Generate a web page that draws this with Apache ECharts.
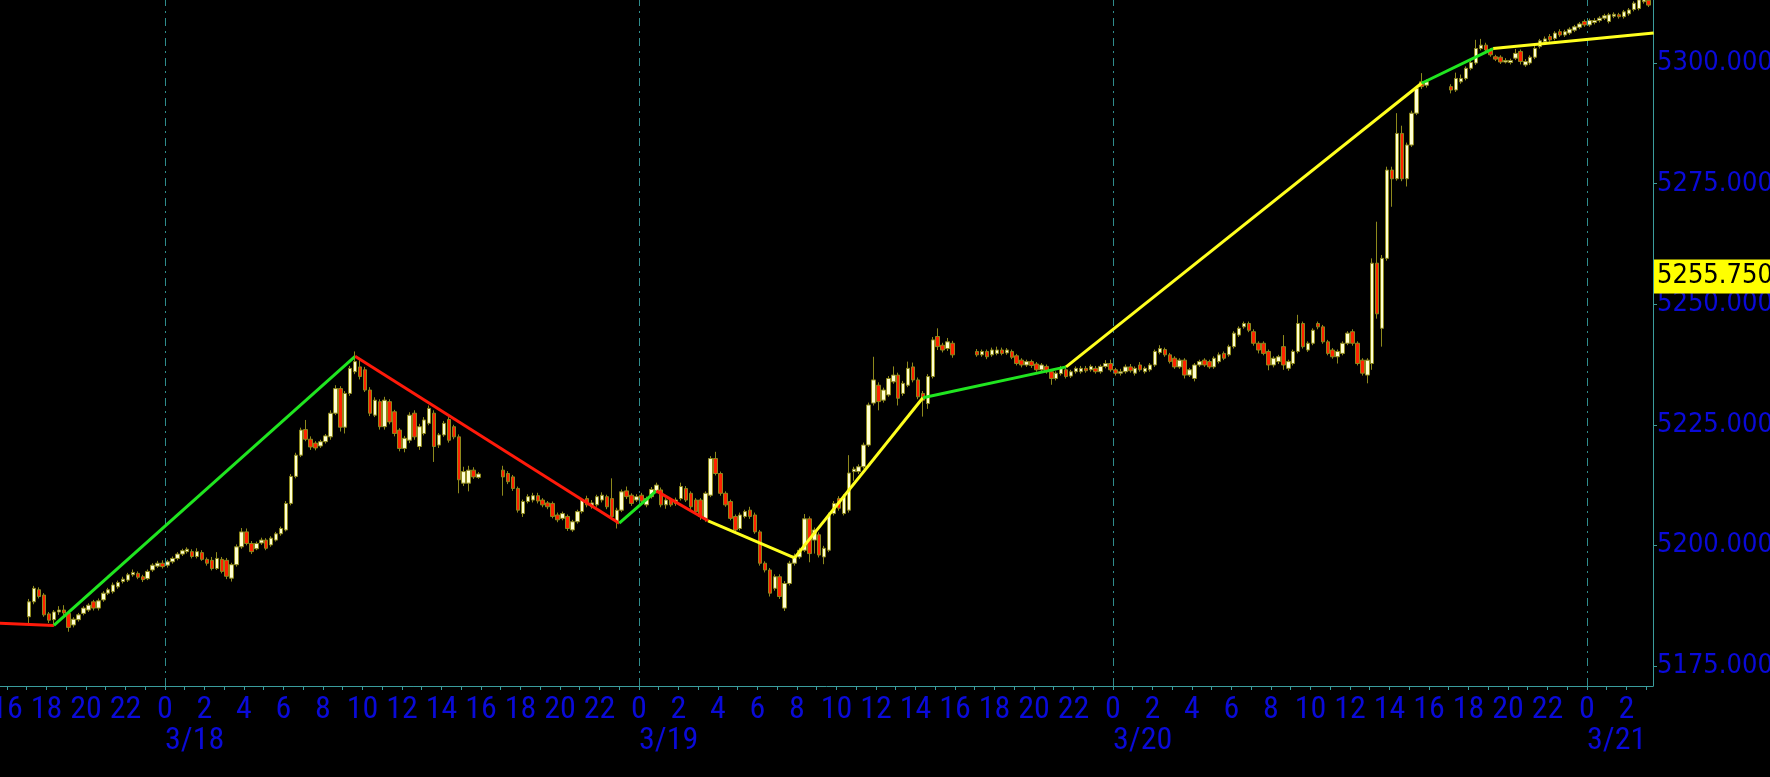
<!DOCTYPE html>
<html><head><meta charset="utf-8">
<script src="https://cdn.jsdelivr.net/npm/echarts@6/dist/echarts.min.js"></script>
<style>html,body{margin:0;padding:0;background:#000;overflow:hidden}#c{width:1770px;height:777px}</style>
</head><body><div id="c"></div>
<script>
// ---- Data (hours counted from 3/18 00:00, 15-minute bars: [open, close, low, high]) ----
const sessAStart = -7;   // 3/17 17:00
const sessA = [
 [5185.2,5188.3,5183.9,5188.9],[5188.3,5191.1,5187.8,5191.6],[5190.8,5189.4,5189.0,5191.3],[5189.7,5185.6,5185.2,5190.1],
 [5185.8,5184.5,5183.9,5186.2],[5184.6,5186.2,5183.6,5186.6],[5186.2,5186.6,5185.6,5187.4],[5186.6,5186.0,5185.5,5187.6],
 [5185.9,5183.0,5182.1,5186.4],[5183.5,5184.7,5183.0,5185.1],[5184.6,5185.6,5184.2,5186.0],[5185.9,5187.0,5185.5,5187.4],
 [5186.6,5187.6,5186.2,5188.0],[5188.3,5187.0,5186.5,5188.7],[5187.0,5188.5,5186.5,5189.0],[5188.7,5190.1,5188.3,5190.5],
 [5190.1,5190.8,5189.7,5191.2],[5190.4,5191.8,5190.0,5192.3],[5191.4,5192.3,5191.0,5192.7],[5192.5,5193.0,5192.1,5193.5],
 [5192.8,5193.9,5192.4,5194.3],[5193.9,5194.4,5193.5,5195.0],[5194.2,5193.4,5193.0,5194.6],[5193.5,5192.9,5192.4,5193.9],
 [5193.1,5194.6,5192.8,5195.0],[5194.9,5195.9,5194.5,5196.3],[5195.7,5196.3,5195.3,5196.8],[5196.3,5195.6,5195.2,5196.9],
 [5195.9,5196.6,5195.4,5197.0],[5196.6,5197.3,5196.2,5197.7],[5197.3,5198.2,5196.9,5198.6],[5198.2,5198.9,5197.8,5199.3],
 [5198.7,5199.2,5198.3,5199.6],[5198.7,5197.7,5197.3,5199.2],[5197.7,5198.7,5197.3,5199.4],[5198.5,5197.1,5196.8,5199.0],
 [5197.1,5196.3,5195.8,5197.5],[5196.9,5195.2,5194.8,5197.6],[5195.2,5197.3,5194.9,5198.6],[5197.1,5194.6,5194.2,5197.6],
 [5196.9,5193.6,5193.0,5197.4],[5193.2,5196.0,5192.5,5196.4],[5196.0,5199.7,5195.6,5200.2],[5199.7,5202.8,5199.3,5203.6],
 [5202.8,5200.4,5200.0,5203.5],[5200.4,5198.7,5198.2,5200.9],[5199.3,5200.4,5199.0,5200.8],[5200.5,5201.1,5200.1,5201.6],
 [5201.1,5199.4,5199.0,5201.5],[5200.1,5201.5,5199.7,5201.9],[5201.1,5202.4,5200.8,5202.8],[5202.4,5203.5,5202.0,5203.9],
 [5203.2,5208.7,5202.9,5209.2],[5208.7,5214.3,5208.3,5214.8],[5214.3,5218.7,5213.9,5219.2],[5218.7,5223.9,5218.3,5224.4],
 [5224.0,5222.0,5221.6,5226.0],[5222.0,5220.4,5219.8,5222.6],[5221.2,5220.2,5219.7,5221.6],[5220.6,5221.5,5220.2,5221.9],
 [5221.5,5222.7,5221.1,5223.1],[5222.5,5227.4,5221.9,5228.0],[5227.4,5232.5,5227.0,5233.2],[5232.5,5224.5,5223.6,5233.0],
 [5224.5,5231.5,5223.2,5232.0],[5231.5,5236.7,5231.0,5237.2],[5236.0,5238.1,5235.5,5240.2],[5237.0,5235.0,5234.4,5238.6],
 [5236.4,5232.2,5231.8,5237.0],[5232.2,5227.4,5226.8,5232.8],[5227.0,5230.1,5226.6,5230.7],[5229.8,5224.6,5224.0,5230.3],
 [5224.6,5230.1,5224.0,5230.8],[5229.8,5225.6,5225.1,5230.3],[5227.7,5223.2,5222.6,5228.1],[5223.9,5220.1,5219.5,5224.3],
 [5220.1,5222.2,5219.3,5222.7],[5221.8,5227.0,5221.2,5227.6],[5227.4,5222.5,5221.9,5228.0],[5220.5,5224.6,5219.8,5225.2],
 [5223.2,5226.0,5222.8,5226.6],[5225.3,5228.4,5224.9,5229.0],[5227.4,5220.5,5217.3,5228.0],[5220.8,5222.9,5220.2,5223.3],
 [5222.9,5225.3,5222.5,5225.8],[5226.1,5221.8,5221.3,5226.6],[5224.6,5222.5,5222.0,5225.0],[5222.5,5213.6,5210.8,5223.0],
 [5212.9,5215.3,5212.3,5216.3],[5212.9,5215.6,5211.2,5216.5],[5215.6,5214.2,5213.8,5216.2],[5214.1,5214.8,5213.8,5215.2]
];
const sessBStart = 17;   // 3/18 17:00
const sessB = [
 [5215.6,5214.2,5210.3,5216.5],[5214.9,5213.2,5212.7,5215.4],[5214.2,5211.8,5211.3,5214.6],[5211.8,5207.3,5206.8,5212.2],
 [5206.6,5209.1,5205.9,5209.5],[5209.1,5210.1,5208.7,5210.6],[5209.4,5210.3,5208.9,5210.9],[5210.3,5209.2,5208.7,5210.9],
 [5209.4,5208.4,5207.9,5209.8],[5208.8,5208.0,5207.5,5209.2],[5208.7,5206.0,5205.6,5209.1],[5206.3,5205.3,5204.8,5206.8],
 [5205.6,5206.6,5205.2,5207.0],[5206.0,5203.5,5203.0,5206.4],[5203.2,5204.9,5202.8,5205.3],[5204.9,5207.0,5204.5,5207.4],
 [5207.0,5209.4,5206.6,5209.8],[5209.7,5208.4,5207.9,5210.3],[5208.0,5208.8,5207.6,5209.4],[5208.4,5210.1,5208.0,5210.5],
 [5209.4,5210.4,5208.9,5211.0],[5210.1,5208.0,5207.5,5210.5],[5209.7,5206.0,5205.5,5213.9],[5204.9,5207.3,5203.5,5207.8],
 [5207.3,5211.1,5206.9,5211.6],[5211.3,5210.1,5209.6,5212.2],[5210.4,5208.7,5208.2,5210.8],[5209.4,5210.1,5209.0,5210.6],
 [5210.4,5209.2,5208.8,5210.9],[5208.4,5209.7,5207.9,5210.1],[5210.1,5211.6,5209.7,5212.1],[5211.2,5212.5,5210.8,5213.0],
 [5211.5,5208.4,5207.9,5212.0],[5208.4,5209.4,5207.6,5209.8],[5209.4,5208.4,5208.0,5209.8],[5208.7,5209.4,5208.2,5209.9],
 [5209.7,5212.2,5209.3,5213.0],[5211.8,5209.4,5209.0,5212.3],[5210.8,5208.0,5207.5,5211.2],[5209.4,5207.0,5206.6,5209.8],
 [5209.4,5206.0,5205.3,5209.8],[5205.6,5210.8,5204.9,5211.2],[5210.4,5218.0,5210.0,5218.5],[5218.0,5214.9,5214.5,5219.4],
 [5214.9,5210.8,5210.3,5215.3],[5210.8,5208.4,5208.0,5211.2],[5209.1,5205.6,5205.2,5209.5],[5206.0,5203.2,5202.8,5206.4],
 [5203.5,5206.3,5203.1,5206.8],[5206.0,5207.0,5205.6,5207.4],[5207.3,5206.0,5205.5,5208.0],[5206.3,5202.8,5202.4,5206.8],
 [5202.8,5196.3,5195.8,5203.2],[5196.3,5194.9,5194.4,5196.7],[5194.9,5190.1,5189.4,5195.3],[5191.1,5193.5,5190.6,5194.0],
 [5193.5,5189.4,5188.9,5194.0],[5187.0,5192.1,5186.4,5192.6],[5192.1,5196.3,5191.7,5196.8],[5196.3,5197.8,5195.8,5198.3],
 [5197.6,5199.0,5197.2,5199.5],[5199.0,5205.5,5198.6,5206.5],[5205.5,5198.3,5196.5,5206.0],[5201.1,5203.2,5198.3,5203.7],
 [5202.2,5198.0,5197.5,5202.7],[5197.6,5199.4,5196.1,5199.9],[5199.0,5206.3,5198.6,5206.8],[5206.6,5208.7,5206.2,5209.2],
 [5209.7,5207.7,5207.2,5210.2],[5206.6,5210.1,5206.2,5210.6],[5207.3,5215.0,5206.8,5218.7],[5215.3,5215.8,5213.4,5216.3],
 [5215.3,5216.3,5214.8,5216.8],[5216.3,5220.8,5215.9,5221.3],[5220.8,5229.1,5220.4,5229.6],[5229.5,5234.3,5229.0,5239.1],
 [5233.2,5229.8,5228.0,5233.8],[5230.1,5232.2,5229.6,5232.7],[5231.2,5234.6,5230.8,5235.1],[5233.9,5235.3,5233.5,5237.1],
 [5235.3,5230.5,5229.0,5235.8],[5231.5,5233.6,5231.0,5234.1],[5233.2,5236.7,5232.8,5238.1],[5237.0,5234.3,5233.8,5237.9],
 [5234.3,5230.8,5230.3,5234.8],[5231.5,5230.1,5226.7,5232.0],[5229.4,5235.0,5228.3,5235.5],[5235.0,5242.6,5234.6,5243.2],
 [5243.3,5241.2,5240.5,5245.0],[5241.5,5240.5,5240.0,5242.0],[5240.8,5242.2,5240.3,5243.0],[5241.9,5239.5,5238.9,5242.4]
];
const sessCStart = 41;   // 3/19 17:00
const sessC = [
 [5240.2,5239.5,5239.1,5240.7],[5239.5,5240.2,5239.1,5240.6],[5240.2,5239.1,5238.6,5240.6],[5239.5,5240.5,5239.1,5241.0],
 [5239.8,5240.5,5239.4,5241.2],[5240.5,5239.8,5239.4,5241.0],[5239.9,5240.5,5239.5,5240.9],[5240.2,5239.0,5238.6,5240.6],
 [5239.3,5237.7,5237.3,5239.7],[5238.4,5237.4,5236.9,5238.8],[5237.4,5238.1,5237.0,5238.5],[5238.1,5237.3,5236.8,5238.5],
 [5237.6,5236.4,5236.0,5238.0],[5236.4,5237.4,5236.0,5237.8],[5237.1,5236.0,5235.6,5237.5],[5236.0,5234.6,5233.3,5236.4],
 [5234.6,5235.7,5234.2,5236.1],[5235.6,5236.7,5235.2,5237.2],[5236.4,5235.0,5234.6,5236.8],[5235.1,5236.0,5234.7,5236.4],
 [5236.0,5236.7,5235.6,5237.1],[5236.0,5236.7,5235.6,5237.2],[5236.7,5236.2,5235.8,5237.2],[5236.4,5237.1,5236.0,5237.5],
 [5236.7,5236.0,5235.6,5237.2],[5236.0,5237.1,5235.6,5237.5],[5237.1,5237.7,5236.7,5238.4],[5237.7,5236.4,5236.0,5238.5],
 [5236.4,5235.7,5235.2,5236.8],[5235.7,5236.0,5235.2,5236.6],[5236.0,5237.0,5235.6,5237.5],[5237.0,5236.2,5235.8,5237.6],
 [5235.7,5236.7,5235.2,5237.1],[5237.4,5236.4,5236.0,5238.0],[5236.0,5236.7,5235.6,5237.1],[5236.4,5237.4,5236.0,5237.8],
 [5237.4,5240.2,5237.0,5240.6],[5240.0,5240.8,5239.6,5241.5],[5240.6,5239.5,5239.1,5241.0],[5239.5,5238.1,5237.7,5239.9],
 [5238.8,5237.0,5236.6,5239.2],[5237.0,5238.4,5236.6,5238.8],[5238.4,5235.3,5234.6,5238.8],[5235.3,5236.4,5234.9,5236.8],
 [5234.6,5237.4,5234.0,5237.8],[5237.4,5238.1,5237.0,5238.5],[5238.4,5237.4,5237.0,5238.8],[5238.1,5237.0,5236.6,5238.5],
 [5237.0,5238.8,5236.6,5239.2],[5238.1,5239.5,5237.7,5240.0],[5239.8,5238.8,5238.4,5240.2],[5239.5,5241.2,5239.1,5241.6],
 [5241.2,5244.0,5240.8,5244.4],[5243.6,5245.0,5243.2,5245.4],[5245.3,5246.0,5244.9,5246.4],[5246.0,5244.6,5244.2,5246.4],
 [5244.3,5241.9,5241.4,5244.8],[5241.9,5240.5,5239.8,5242.3],[5241.9,5239.8,5239.4,5242.3],[5240.2,5237.4,5236.3,5240.6],
 [5237.4,5238.8,5236.9,5239.2],[5238.1,5239.1,5237.6,5239.5],[5241.2,5237.4,5236.4,5243.6],[5236.7,5238.1,5236.2,5238.5],
 [5237.7,5240.2,5237.3,5240.6],[5240.2,5246.0,5239.8,5247.8],[5246.0,5241.2,5240.8,5246.4],[5240.5,5241.9,5240.1,5242.3],
 [5241.9,5244.6,5241.5,5245.0],[5246.0,5245.3,5244.8,5246.4],[5245.3,5242.2,5241.8,5245.7],[5242.2,5239.8,5239.4,5242.6],
 [5240.5,5239.1,5238.7,5240.9],[5239.1,5240.2,5237.7,5240.6],[5239.8,5241.9,5239.4,5242.3],[5241.9,5244.0,5241.5,5244.4],
 [5244.3,5241.9,5241.4,5244.8],[5241.9,5237.7,5237.3,5242.3],[5238.4,5235.7,5235.2,5238.8],[5235.3,5238.4,5233.6,5238.8],
 [5237.7,5258.5,5236.4,5259.5],[5258.5,5248.0,5247.0,5267.1],[5245.0,5259.5,5241.2,5260.2],[5259.5,5277.8,5259.0,5278.5],
 [5277.8,5276.0,5270.2,5278.5],[5276.0,5285.4,5275.6,5289.6],[5285.4,5276.0,5275.5,5287.0],[5276.0,5283.0,5274.4,5283.5],
 [5283.0,5289.6,5282.6,5290.1],[5289.6,5294.7,5289.2,5295.2],[5296.1,5295.1,5294.6,5297.9],[5295.4,5296.1,5294.9,5296.6]
];
const sessDStart = 65;   // 3/20 17:00
const sessD = [
 [5295.1,5294.4,5293.7,5295.6],[5294.4,5296.8,5294.0,5298.0],[5296.1,5296.8,5295.7,5297.6],[5296.8,5298.9,5296.4,5299.3],
 [5298.9,5300.1,5298.5,5300.5],[5300.0,5303.0,5299.6,5304.8],[5303.0,5303.7,5302.6,5305.0],[5303.7,5302.7,5302.3,5304.2],
 [5302.7,5301.7,5301.3,5303.1],[5301.3,5300.8,5300.4,5301.7],[5301.2,5300.2,5299.8,5301.6],[5300.2,5300.5,5299.9,5301.0],
 [5300.1,5300.5,5299.7,5300.9],[5301.0,5302.0,5300.6,5302.9],[5302.4,5300.3,5299.7,5302.8],[5299.6,5300.3,5299.2,5300.8],
 [5300.0,5301.2,5299.6,5301.6],[5301.2,5303.0,5300.8,5303.5],[5303.4,5304.6,5303.0,5305.0],[5304.4,5305.0,5304.0,5305.5],
 [5305.5,5304.8,5304.4,5306.0],[5305.1,5306.2,5304.7,5306.6],[5306.5,5305.8,5305.4,5307.0],[5305.8,5306.5,5305.4,5306.9],
 [5306.2,5307.0,5305.8,5307.4],[5306.8,5307.5,5306.4,5307.9],[5307.4,5308.1,5307.0,5308.5],[5308.6,5307.9,5307.5,5309.0],
 [5307.9,5308.8,5307.5,5309.2],[5308.4,5308.8,5308.0,5309.3],[5308.8,5309.3,5308.4,5309.7],[5309.3,5309.8,5308.9,5310.2],
 [5308.6,5310.0,5308.2,5310.4],[5309.7,5310.1,5309.3,5310.5],[5310.0,5309.6,5309.2,5310.4],[5309.6,5310.6,5309.2,5311.0],
 [5310.2,5311.0,5309.8,5311.4],[5311.1,5312.4,5310.7,5312.8],[5311.3,5313.1,5310.9,5313.5],[5312.7,5313.1,5312.3,5313.6],
 [5313.0,5312.0,5311.6,5313.4]
];

// zigzag overlay (hours, price, segment colour)
const zigTimes  = [-8.5, -5.625, 9.625, 23.0, 24.875, 27.5, 31.875, 38.375, 45.625, 63.625, 67.25, 75.375];
const zigPrices = [5183.9, 5183.4, 5239.2, 5204.6, 5211.3, 5205.1, 5197.4, 5230.6, 5237.0, 5295.8, 5303.0, 5306.2];
const zigColors = ['red','green','red','green','red','yellow','yellow','green','yellow','green','yellow'];

const yTicks = [5175, 5200, 5225, 5250, 5275, 5300];
const dayStarts = [0, 24, 48, 72];
const dateLabels = ['3/18', '3/19', '3/20', '3/21'];
const lastPrice = 5255.75;

// ---- font availability ----
function pickFont(list) {
  const ctx = document.createElement('canvas').getContext('2d');
  const s = '0123456789./';
  for (const f of list) {
    for (const base of ['monospace', 'serif']) {
      ctx.font = '40px ' + base; const w0 = ctx.measureText(s).width;
      ctx.font = '40px "' + f + '", ' + base; const w1 = ctx.measureText(s).width;
      if (Math.abs(w0 - w1) > 0.5) return f;
    }
  }
  return null;
}
const trueNarrow = pickFont(['Liberation Sans Narrow', 'Arial Narrow', 'Roboto Condensed', 'Noto Sans Condensed', 'Open Sans Condensed', 'Ubuntu Condensed']);
const condensed = pickFont(['DejaVu Sans Condensed']);
const xFont = trueNarrow || condensed || 'Liberation Sans';
const xSize = trueNarrow ? 32 : (condensed ? 28 : 26);
const yFont = condensed || 'Liberation Sans';
const ySize = 27;

// ---- build ----
const BAR = 0.25;
const candleData = [];
[[sessAStart, sessA], [sessBStart, sessB], [sessCStart, sessC], [sessDStart, sessD]].forEach(([st, bars]) => {
  bars.forEach((b, i) => candleData.push([st + i * BAR + BAR / 2, b[0], b[1], b[2], b[3]]));
});
const colMap = { red: '#ff1a0a', green: '#20e620', yellow: '#ffff1e' };
const zigSeries = zigColors.map((c, i) => ({
  type: 'line', xAxisIndex: 0, yAxisIndex: 0, symbol: 'none', silent: true, z: 5,
  data: [[zigTimes[i], zigPrices[i]], [zigTimes[i + 1], zigPrices[i + 1]]],
  lineStyle: { color: colMap[c], width: 3 }
}));

const hourTicks = [], hourLabels = [];
for (let h = -8; h <= 75; h++) { hourTicks.push(h); if (h % 2 === 0) hourLabels.push(h); }

const X_MIN = -8.354, X_MAX = 75.342, Y_MIN = 5170.85, Y_MAX = 5313.06;
const AX = '#3a9c9c', BLUE = '#0a0ad8';
const hourMargin = 23.5 - xSize / 2;        // hour-label centre ~24px below the axis
const dateMargin = 54.5 - xSize / 2 - 31;   // date-label centre ~55px below the axis

const chart = echarts.init(document.getElementById('c'), null, { renderer: 'canvas' });
chart.setOption({
  backgroundColor: '#000',
  animation: false,
  grid: { left: 0, right: 117, top: 0, bottom: 91, containLabel: false, outerBoundsMode: 'none' },
  xAxis: [{
    type: 'value', min: X_MIN, max: X_MAX, position: 'bottom',
    axisLine: { show: true, onZero: false, lineStyle: { color: AX, width: 1 } },
    axisTick: { show: true, length: 4, lineStyle: { color: AX }, customValues: hourTicks },
    axisLabel: { show: true, customValues: hourLabels, color: BLUE, fontFamily: xFont, fontSize: xSize, margin: hourMargin, hideOverlap: false,
      formatter: v => String(((Math.round(v) % 24) + 24) % 24) },
    splitLine: { show: false }
  }, {
    type: 'value', min: X_MIN, max: X_MAX, position: 'bottom', offset: 31,
    axisLine: { show: false, onZero: false }, axisTick: { show: false }, splitLine: { show: false },
    axisLabel: { show: true, customValues: dayStarts, color: BLUE, fontFamily: xFont, fontSize: xSize, margin: dateMargin, align: 'left',
      formatter: v => dateLabels[dayStarts.indexOf(Math.round(v))] || '' }
  }],
  yAxis: [{
    type: 'value', min: Y_MIN, max: Y_MAX, position: 'right',
    axisLine: { show: true, onZero: false, lineStyle: { color: AX, width: 1 } },
    axisTick: { show: true, length: 4, lineStyle: { color: AX }, customValues: yTicks },
    axisLabel: { show: true, customValues: yTicks, color: BLUE, fontFamily: yFont, fontSize: ySize, margin: 4,
      formatter: v => v.toFixed(3) },
    splitLine: { show: false }
  }],
  series: [{
    type: 'candlestick', xAxisIndex: 0, yAxisIndex: 0, data: candleData, barWidth: 4, z: 3,
    itemStyle: { color: '#ffffd2', color0: '#ff2200', borderColor: '#8e891c', borderColor0: '#8e891c', borderWidth: 1 },
    markLine: {
      silent: true, symbol: ['none', 'none'], animation: false,
      data: dayStarts.map(d => ({ xAxis: d, lineStyle: { color: '#2f8c8c', width: 1, type: [8, 5, 2, 5] }, label: { show: false } }))
        .concat([{ yAxis: lastPrice, lineStyle: { color: 'rgba(0,0,0,0)', width: 0 },
          label: { show: true, position: 'end', distance: 1, formatter: lastPrice.toFixed(3), color: '#000',
            backgroundColor: '#ffff00', fontFamily: yFont, fontSize: ySize, padding: [4, 3, 3, 3] } }])
    }
  }].concat(zigSeries)
});
</script></body></html>
